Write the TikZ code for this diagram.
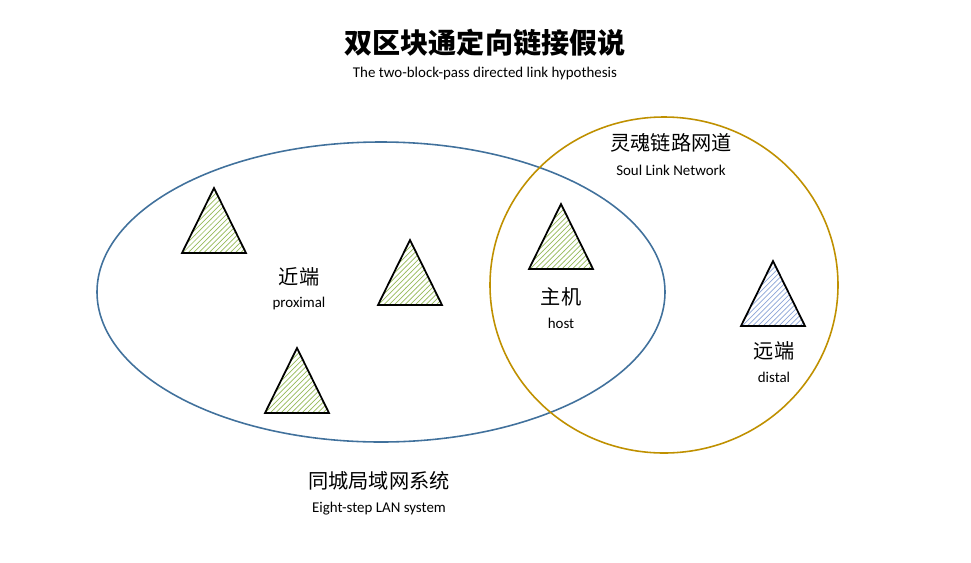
\documentclass[tikz,border=0pt]{standalone}
\usepackage{fontspec}
\setmainfont{Carlito}
\newfontfamily\cjk{Noto Sans CJK SC}
\usetikzlibrary{patterns}
\definecolor{lanblue}{RGB}{65,113,156}
\definecolor{soulgold}{RGB}{191,144,0}
\definecolor{hatchgreen}{RGB}{150,186,90}
\definecolor{hatchblue}{RGB}{140,165,215}
\begin{document}
\begin{tikzpicture}[x=0.02cm,y=-0.02cm,
                    zh/.style={font=\cjk\fontsize{11.5}{13}\selectfont},
                    en/.style={font=\fontsize{8.5}{10}\selectfont},
                    tri/.style={draw=black,line width=1pt,pattern=north east lines,pattern color=#1}]
  \useasboundingbox (0,0) rectangle (971,562);

  % 标题
  \node[font=\cjk\bfseries\fontsize{16}{18}\selectfont] (title) at (485,43) {双区块通定向链接假说};
  \node[en] (subtitle) at (485,74) {The two-block-pass directed link hypothesis};

  % 两个区域
  \draw[lanblue,line width=0.9pt] (381,292) ellipse [x radius=284,y radius=150];
  \draw[soulgold,line width=0.9pt] (664,285) ellipse [x radius=174,y radius=168];

  % 三角形
  \foreach \x/\y/\c in {214/188/hatchgreen,410/240/hatchgreen,297/348/hatchgreen,
                        561/204/hatchgreen,773/261/hatchblue}
    \draw[tri=\c] (\x,\y) -- ++(32,65) -- ++(-64,0) -- cycle;

  % 标签
  \node[zh] (near)  at (299,277) {近端};
  \node[en] (nearE) at (299,304) {proximal};
  \node[zh] (host)  at (561,297) {主机};
  \node[en] (hostE) at (561,323) {host};
  \node[zh] (far)   at (774,351) {远端};
  \node[en] (farE)  at (774,377) {distal};
  \node[zh] (soul)  at (671,143) {灵魂链路网道};
  \node[en] (soulE) at (671,170) {Soul Link Network};
  \node[zh] (lan)   at (379,481) {同城局域网系统};
  \node[en] (lanE)  at (379,509) {Eight-step LAN system};
\end{tikzpicture}
\end{document}
